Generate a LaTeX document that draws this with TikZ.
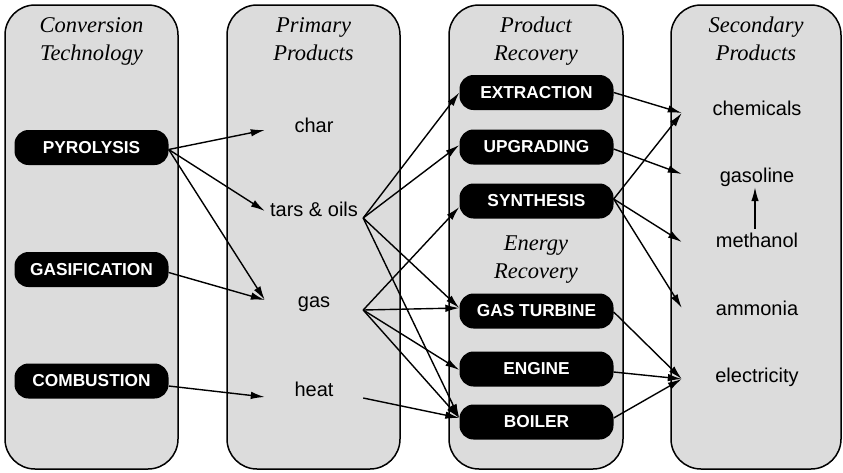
\documentclass[tikz,border=0pt]{standalone}
\usepackage{fontspec}
\setmainfont{Liberation Serif}
\setsansfont{Liberation Sans}
\usetikzlibrary{arrows.meta,calc}
\definecolor{colfill}{RGB}{220,220,220}
\begin{document}
\begin{tikzpicture}[x=1pt,y=-1pt,
  col/.style={draw=black, line width=1.5pt, fill=colfill, rounded corners=30pt, minimum height=464pt, inner sep=0pt},
  title/.style={font=\fontsize{22.5}{28}\selectfont\itshape, align=center, anchor=north, inner sep=0pt},
  proc/.style={fill=black, text=white, rounded corners=14pt, minimum width=154pt, minimum height=35pt, inner sep=0pt, font=\sffamily\bfseries\fontsize{17.3}{19}\selectfont},
  item/.style={font=\sffamily\fontsize{20}{24}\selectfont, text height=14pt, text depth=4pt, inner sep=0pt, anchor=base},
  prim/.style={item, minimum width=98pt},
  sec/.style={item, minimum width=150pt},
  arr/.style={line width=1.4pt, -{Latex[length=14pt,width=7.5pt]}}]
\useasboundingbox (0,0) rectangle (843,472);
% columns
\node[col, minimum width=173pt] (c1) at (91.5,237) {};
\node[col, minimum width=173pt] (c2) at (313.5,237) {};
\node[col, minimum width=174pt] (c3) at (536,237) {};
\node[col, minimum width=170pt] (c4) at (756,237) {};
% titles
\node[title] (t1) at (91.5,17) {Conversion\\Technology};
\node[title] (t2) at (313.5,17) {Primary\\Products};
\node[title] (t3) at (536,17) {Product\\Recovery};
\node[title] (t4) at (756,17) {Secondary\\Products};
\node[title] (t5) at (536,236) {Energy\\Recovery};
% conversion technologies
\node[proc] (pyro) at (91.5,147.5) {PYROLYSIS};
\node[proc] (gasif) at (91.5,269.5) {GASIFICATION};
\node[proc] (comb) at (91.5,381) {COMBUSTION};
% primary products
\node[prim] (char) at (314,132) {char};
\node[prim] (tars) at (314,216) {tars \& oils};
\node[prim] (gas) at (314,307) {gas};
\node[prim] (heat) at (314,396) {heat};
% recovery
\node[proc] (extr) at (536.5,92.5) {EXTRACTION};
\node[proc] (upgr) at (536.5,147) {UPGRADING};
\node[proc] (synt) at (536.5,201) {SYNTHESIS};
\node[proc] (gt) at (536.5,311) {GAS TURBINE};
\node[proc] (eng) at (536.5,369) {ENGINE};
\node[proc] (boil) at (536.5,422) {BOILER};
% secondary products
\node[sec] (chem) at (757,115) {chemicals};
\node[sec] (gasol) at (757,182) {gasoline};
\node[sec] (meth) at (757,247) {methanol};
\node[sec] (ammo) at (757,315) {ammonia};
\node[sec] (elec) at (757,382) {electricity};
% conversion -> primary
\draw[arr] ($(pyro.east)+(0,2)$) -- ($(char.base west)+(0,-2)$);
\draw[arr] ($(pyro.east)+(0,2)$) -- ($(tars.base west)+(0,-5)$);
\draw[arr] ($(pyro.east)+(0,2)$) -- ($(gas.base west)+(0,-7)$);
\draw[arr] ($(gasif.east)+(0,3)$) -- ($(gas.base west)+(0,-7)$);
\draw[arr] ($(comb.east)+(0,5)$) -- ($(heat.base west)+(0,1)$);
% primary -> recovery
\draw[arr] ($(tars.base east)+(0,2)$) -- (extr.west);
\draw[arr] ($(tars.base east)+(0,2)$) -- ($(upgr.west)+(0,-2)$);
\draw[arr] ($(tars.base east)+(0,2)$) -- ($(gt.west)+(0,-3)$);
\draw[arr] ($(tars.base east)+(0,2)$) -- ($(boil.west)+(0,-4)$);
\draw[arr] ($(gas.base east)+(0,3)$) -- ($(synt.west)+(0,6)$);
\draw[arr] ($(gas.base east)+(0,3)$) -- ($(gt.west)+(0,-3)$);
\draw[arr] ($(gas.base east)+(0,3)$) -- ($(eng.west)+(0,1)$);
\draw[arr] ($(gas.base east)+(0,3)$) -- ($(boil.west)+(0,-4)$);
\draw[arr] ($(heat.base east)+(0,2)$) -- ($(boil.west)+(0,-4)$);
% recovery -> secondary
\draw[arr] (extr.east) -- ($(chem.base west)+(0,-2)$);
\draw[arr] ($(upgr.east)+(0,2)$) -- ($(gasol.base west)+(0,-8)$);
\draw[arr] ($(synt.east)+(0,-2)$) -- ($(chem.base west)+(0,-2)$);
\draw[arr] ($(synt.east)+(0,-2)$) -- ($(meth.base west)+(0,-5)$);
\draw[arr] ($(synt.east)+(0,-2)$) -- ($(ammo.base west)+(0,-7)$);
\draw[arr] ($(gt.east)+(0,1)$) -- ($(elec.base west)+(0,-3)$);
\draw[arr] ($(eng.east)+(0,3)$) -- ($(elec.base west)+(0,-3)$);
\draw[arr] ($(boil.east)+(0,-4)$) -- ($(elec.base west)+(0,-3)$);
\draw[arr] ($(meth.north)+(-2,-4)$) -- ($(gasol.south)+(-2,1)$);
\end{tikzpicture}
\end{document}
